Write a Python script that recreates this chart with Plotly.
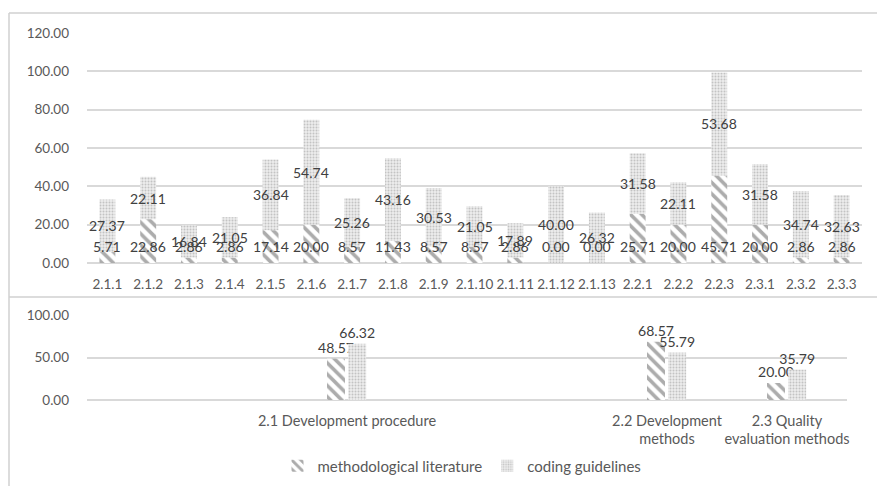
import plotly.graph_objects as go

# ---------------- data ----------------
categories = ['2.1.1', '2.1.2', '2.1.3', '2.1.4', '2.1.5', '2.1.6', '2.1.7', '2.1.8', '2.1.9',
              '2.1.10', '2.1.11', '2.1.12', '2.1.13', '2.2.1', '2.2.2', '2.2.3',
              '2.3.1', '2.3.2', '2.3.3']
methodological = [5.71, 22.86, 2.86, 2.86, 17.14, 20.00, 8.57, 11.43, 8.57,
                  8.57, 2.86, 0.00, 0.00, 25.71, 20.00, 45.71,
                  20.00, 2.86, 2.86]
coding = [27.37, 22.11, 16.84, 21.05, 36.84, 54.74, 25.26, 43.16, 30.53,
          21.05, 17.89, 40.00, 26.32, 31.58, 22.11, 53.68,
          31.58, 34.74, 32.63]

group_prefixes = ['2.1', '2.2', '2.3']
group_labels = ['2.1 Development procedure', '2.2 Development<br>methods',
                '2.3 Quality<br>evaluation methods']
group_methodological = [48.57, 68.57, 20.00]
group_coding = [66.32, 55.79, 35.79]

top_ticks = [0, 20, 40, 60, 80, 100, 120]
bottom_ticks = [0, 50, 100]

# ---------------- styling ----------------
W, H = 885, 486
PAGE_OFF = 8  # default page body margin
FONT = 'Lato'
LABEL_COL = '#404040'
TICK_COL = '#595959'
GRID_COL = '#d9d9d9'
hatch = dict(shape='\\', fgcolor='#5a5a5a', bgcolor='white', size=8, solidity=0.45)
dots = dict(shape='.', fgcolor='#9a9a9a', bgcolor='#ececec', size=3, solidity=0.35)

def px_x(p):
    return max(0.0, (p - PAGE_OFF) / W)

def px_y(p):
    return min(1.0, (H - (p - PAGE_OFF)) / H)

# middle sub-category of each group (bottom chart aligned with top categories)
group_pos = []
for pre in group_prefixes:
    members = [c for c in categories if c.startswith(pre + '.')]
    group_pos.append(members[(len(members) - 1) // 2])

fig = go.Figure()

# top: stacked bars
fig.add_trace(go.Bar(x=categories, y=methodological, width=0.39,
                     marker=dict(color='white', pattern=hatch, line=dict(width=0)),
                     name='methodological literature', xaxis='x', yaxis='y',
                     legendgroup='m', showlegend=True))
fig.add_trace(go.Bar(x=categories, y=coding, base=methodological, width=0.39,
                     marker=dict(color='#ececec', pattern=dots, line=dict(width=0)),
                     name='coding guidelines', xaxis='x', yaxis='y',
                     legendgroup='c', showlegend=True))

# bottom: side-by-side bars
fig.add_trace(go.Bar(x=group_pos, y=group_methodological, width=0.45, offset=-0.5,
                     marker=dict(color='white', pattern=hatch, line=dict(width=0)),
                     text=[f'{v:.2f}' for v in group_methodological], textposition='outside',
                     constraintext='none',
                     textfont=dict(size=14, color=LABEL_COL, family=FONT), cliponaxis=False,
                     xaxis='x2', yaxis='y2', showlegend=False, legendgroup='m'))
fig.add_trace(go.Bar(x=group_pos, y=group_coding, width=0.45, offset=0.03,
                     marker=dict(color='#ececec', pattern=dots, line=dict(width=0)),
                     text=[f'{v:.2f}' for v in group_coding], textposition='outside',
                     constraintext='none',
                     textfont=dict(size=14, color=LABEL_COL, family=FONT), cliponaxis=False,
                     xaxis='x2', yaxis='y2', showlegend=False, legendgroup='c'))

annotations = []
for c, m, k in zip(categories, methodological, coding):
    annotations.append(dict(x=c, y=0, xref='x', yref='y', yshift=17, text=f'{m:.2f}',
                            showarrow=False, font=dict(size=14, color=LABEL_COL, family=FONT)))
    annotations.append(dict(x=c, y=m + k / 2, xref='x', yref='y', text=f'{k:.2f}',
                            showarrow=False, font=dict(size=14, color=LABEL_COL, family=FONT)))

shapes = [
    dict(type='line', xref='paper', yref='paper', x0=px_x(9), x1=1, y0=px_y(13), y1=px_y(13),
         line=dict(color='#d0d0d0', width=1.5)),
    dict(type='line', xref='paper', yref='paper', x0=px_x(9), x1=px_x(9), y0=0, y1=px_y(13),
         line=dict(color='#d0d0d0', width=1.5)),
    dict(type='line', xref='paper', yref='paper', x0=px_x(9), x1=1, y0=px_y(297), y1=px_y(297),
         line=dict(color='#d0d0d0', width=1.5)),
]

fig.update_layout(
    width=W, height=H,
    margin=dict(l=0, r=0, t=0, b=0, autoexpand=False),
    paper_bgcolor='white', plot_bgcolor='white',
    barmode='overlay',
    font=dict(family=FONT, color=TICK_COL),
    xaxis=dict(domain=[px_x(87), px_x(862)], anchor='y', type='category',
               categoryorder='array', categoryarray=categories,
               tickangle=0, tickfont=dict(size=13.5, color=TICK_COL), ticks='',
               ticklabelstandoff=11, showgrid=False, showline=False, zeroline=False),
    yaxis=dict(domain=[px_y(263), px_y(33)], anchor='x', range=[0, 120],
               tickvals=top_ticks, tickformat='.2f', tickfont=dict(size=13.5, color=TICK_COL),
               ticklabelstandoff=17, showgrid=True, gridcolor=GRID_COL, gridwidth=1.5,
               zeroline=True, zerolinecolor=GRID_COL, zerolinewidth=1.5, showline=False),
    xaxis2=dict(domain=[px_x(87), px_x(847)], anchor='y2', type='category',
                categoryorder='array', categoryarray=categories,
                range=[-0.5, len(categories) - 0.5],
                tickvals=group_pos, ticktext=group_labels, tickangle=0,
                tickfont=dict(size=14.5, color=TICK_COL), ticks='', ticklabelstandoff=10,
                showgrid=False, showline=False, zeroline=False),
    yaxis2=dict(domain=[px_y(400), px_y(315)], anchor='x2', range=[0, 100],
                tickvals=bottom_ticks, tickformat='.2f', tickfont=dict(size=13.5, color=TICK_COL),
                ticklabelstandoff=17, showgrid=True, gridcolor=GRID_COL, gridwidth=1.5,
                zeroline=True, zerolinecolor=GRID_COL, zerolinewidth=1.5, showline=False),
    legend=dict(orientation='h', x=px_x(462), y=px_y(466), xanchor='center', yanchor='middle',
                font=dict(size=15, color=TICK_COL), itemwidth=30, traceorder='normal'),
    annotations=annotations,
    shapes=shapes,
)

fig.write_html('out.html')
